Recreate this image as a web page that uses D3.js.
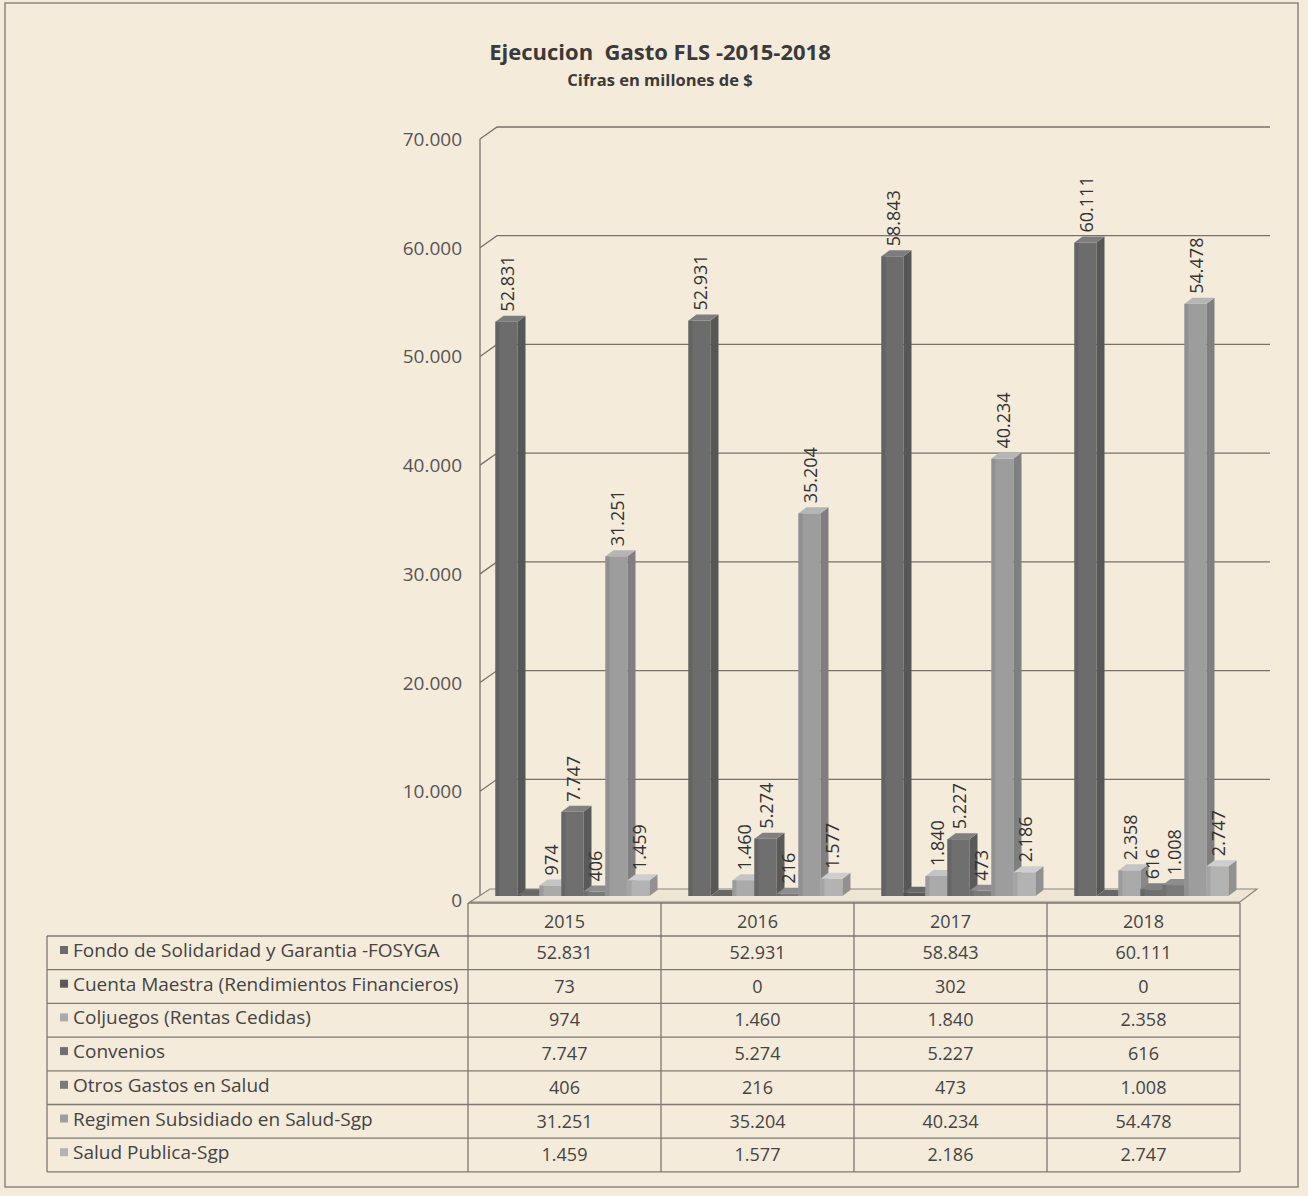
<!DOCTYPE html>
<html>
<head>
<meta charset="utf-8">
<script src="https://cdn.jsdelivr.net/npm/d3@7"></script>
<style>
  html, body { margin: 0; padding: 0; background: #f5ebdb; }
  svg { display: block; }
  text { font-family: "Open Sans", "Lato", sans-serif; }
</style>
</head>
<body>
<svg id="chart" width="1308" height="1196"></svg>
<script>
const years = ["2015", "2016", "2017", "2018"];
const seriesNames = [
  "Fondo de Solidaridad y Garantia -FOSYGA",
  "Cuenta Maestra (Rendimientos Financieros)",
  "Coljuegos (Rentas Cedidas)",
  "Convenios",
  "Otros Gastos en Salud",
  "Regimen Subsidiado en Salud-Sgp",
  "Salud Publica-Sgp"
];
const fosyga = [52831, 52931, 58843, 60111];
const cuentaMaestra = [73, 0, 302, 0];
const coljuegos = [974, 1460, 1840, 2358];
const convenios = [7747, 5274, 5227, 616];
const otrosGastos = [406, 216, 473, 1008];
const regimenSubsidiado = [31251, 35204, 40234, 54478];
const saludPublica = [1459, 1577, 2186, 2747];
const seriesValues = [fosyga, cuentaMaestra, coljuegos, convenios, otrosGastos, regimenSubsidiado, saludPublica];
const showLabel = [true, false, true, true, true, true, true];
const yTicks = [0, 10000, 20000, 30000, 40000, 50000, 60000, 70000];
const colors = ["#6c6c6c", "#5a5a5a", "#aaaaaa", "#6f6f6f", "#7a7a7a", "#9d9d9d", "#b3b3b3"];

const fmt = v => d3.format(",")(v).replace(/,/g, ".");

const svg = d3.select("#chart");
svg.append("rect").attr("x", 0).attr("y", 0).attr("width", 1308).attr("height", 1196).attr("fill", "#f5ebdb");
svg.append("rect").attr("x", 5).attr("y", 3).attr("width", 1293).attr("height", 1184)
  .attr("fill", "none").attr("stroke", "#8c8680").attr("stroke-width", 1.5);

// Title
svg.append("text").attr("x", 660).attr("y", 60).attr("text-anchor", "middle")
  .attr("font-size", 22).attr("font-weight", "bold").attr("fill", "#3a3a3a")
  .attr("xml:space", "preserve").text("Ejecucion  Gasto FLS -2015-2018");
svg.append("text").attr("x", 660).attr("y", 86).attr("text-anchor", "middle")
  .attr("font-size", 16.5).attr("font-weight", "bold").attr("fill", "#3a3a3a")
  .text("Cifras en millones de $");

// Scales
const y = d3.scaleLinear().domain([0, 70000]).range([900, 139]);
const x0 = d3.scaleBand().domain(years).range([468, 1240]).padding(0);
const x1 = d3.scaleBand().domain(d3.range(seriesNames.length)).range([19.5, 173.5]).padding(0);

const wallX = 480, depthX = 17, depthY = -12, gridRight = 1270;

// Gridlines & wall
const grid = svg.append("g");
yTicks.forEach(t => {
  if (t === 0) return;
  grid.append("path")
    .attr("d", `M${wallX},${y(t)} L${wallX + depthX},${y(t) + depthY} L${gridRight},${y(t) + depthY}`)
    .attr("fill", "none").attr("stroke", "#77726c").attr("stroke-width", 1.3);
});
grid.append("line").attr("x1", wallX).attr("x2", wallX).attr("y1", y(70000)).attr("y2", y(0) - 2)
  .attr("stroke", "#77726c").attr("stroke-width", 1.3);

// Y axis labels
svg.append("g").selectAll("text").data(yTicks).join("text")
  .attr("x", 462).attr("y", d => y(d) + 7).attr("text-anchor", "end")
  .attr("font-size", 19).attr("fill", "#555")
  .text(d => fmt(d));

// Floor
const floorFrontY = 902, floorBackY = 889;
svg.append("path")
  .attr("d", `M470,${floorFrontY} L1240,${floorFrontY} L1257,${floorBackY} L490,${floorBackY} Z`)
  .attr("fill", "#efe5d4").attr("stroke", "#8a857e").attr("stroke-width", 1.2);

// Bars (3D)
const bw = 22, dx = 8, dy = -6, shiftX = 8, shiftY = -4;
const barsG = svg.append("g");
years.forEach((yr, i) => {
  seriesValues.forEach((vals, s) => {
    const v = vals[i];
    const bx = x0(yr) + x1(s) + shiftX;
    const top = y(v) + shiftY;
    const bot = y(0) + shiftY;
    const c = d3.color(colors[s]);
    const g = barsG.append("g");
    g.append("rect").attr("x", bx).attr("y", top).attr("width", bw).attr("height", Math.max(0, bot - top))
      .attr("fill", c.formatHex());
    g.append("rect").attr("x", bx).attr("y", top).attr("width", 4).attr("height", Math.max(0, bot - top))
      .attr("fill", c.darker(0.25).formatHex());
    g.append("path")
      .attr("d", `M${bx + bw},${top} L${bx + bw + dx},${top + dy} L${bx + bw + dx},${bot + dy} L${bx + bw},${bot} Z`)
      .attr("fill", c.darker(0.6).formatHex());
    g.append("path")
      .attr("d", `M${bx},${top} L${bx + dx},${top + dy} L${bx + bw + dx},${top + dy} L${bx + bw},${top} Z`)
      .attr("fill", c.brighter(0.4).formatHex());
  });
});

// Data labels
const labelsG = svg.append("g");
years.forEach((yr, i) => {
  seriesValues.forEach((vals, s) => {
    if (!showLabel[s]) return;
    const v = vals[i];
    const cx = x0(yr) + x1(s) + shiftX + bw / 2 + 7;
    const ty = y(v) + shiftY - 10;
    labelsG.append("text")
      .attr("transform", `translate(${cx},${ty}) rotate(-90)`)
      .attr("font-size", 18).attr("fill", "#333")
      .text(fmt(v));
  });
});

// Data table
const tableLeft = 47, labelRight = 468, tableRight = 1240;
const headerTop = 903, rowTop = 936, rowH = 33.7;
const nRows = seriesNames.length;
const tableBottom = rowTop + nRows * rowH;
const tg = svg.append("g");
const lineColor = "#7d7872";
tg.append("line").attr("x1", labelRight).attr("x2", tableRight).attr("y1", headerTop).attr("y2", headerTop)
  .attr("stroke", lineColor).attr("stroke-width", 1.3);
d3.range(nRows + 1).forEach(r => {
  tg.append("line").attr("x1", tableLeft).attr("x2", tableRight)
    .attr("y1", rowTop + r * rowH).attr("y2", rowTop + r * rowH)
    .attr("stroke", lineColor).attr("stroke-width", 1.3);
});
tg.append("line").attr("x1", tableLeft).attr("x2", tableLeft).attr("y1", rowTop).attr("y2", tableBottom)
  .attr("stroke", lineColor).attr("stroke-width", 1.3);
[labelRight, ...years.slice(1).map(d => x0(d)), tableRight].forEach(xv => {
  tg.append("line").attr("x1", xv).attr("x2", xv).attr("y1", headerTop).attr("y2", tableBottom)
    .attr("stroke", lineColor).attr("stroke-width", 1.3);
});
tg.selectAll("text.yr").data(years).join("text").attr("class", "yr")
  .attr("x", d => x0(d) + x0.bandwidth() / 2).attr("y", headerTop + 25)
  .attr("text-anchor", "middle").attr("font-size", 18).attr("fill", "#444").text(d => d);
seriesNames.forEach((name, s) => {
  const ry = rowTop + s * rowH;
  tg.append("rect").attr("x", 60).attr("y", ry + 10).attr("width", 8).attr("height", 8).attr("fill", colors[s]);
  tg.append("text").attr("x", 73).attr("y", ry + 21).attr("font-size", 19).attr("fill", "#444").text(name);
  years.forEach((yr, i) => {
    tg.append("text").attr("x", x0(yr) + x0.bandwidth() / 2).attr("y", ry + 23)
      .attr("text-anchor", "middle").attr("font-size", 18).attr("fill", "#444")
      .text(fmt(seriesValues[s][i]));
  });
});
</script>
</body>
</html>
